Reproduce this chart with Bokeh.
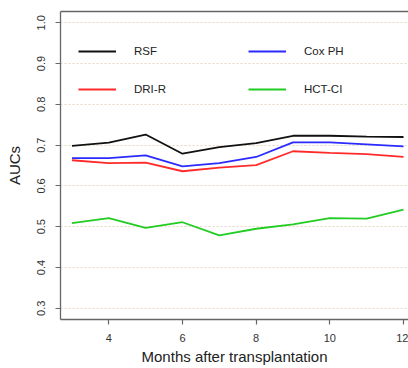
from bokeh.plotting import figure
from bokeh.models import Range1d, Legend, LegendItem, LinearAxis, FixedTicker, PrintfTickFormatter, Title
from bokeh.embed import file_html
from bokeh.resources import INLINE

months = [3, 4, 5, 6, 7, 8, 9, 10, 11, 12]
rsf = [0.698, 0.706, 0.726, 0.679, 0.695, 0.705, 0.723, 0.723, 0.721, 0.720]
cox_ph = [0.668, 0.668, 0.675, 0.648, 0.656, 0.671, 0.707, 0.707, 0.702, 0.697]
dri_r = [0.663, 0.656, 0.657, 0.636, 0.645, 0.651, 0.685, 0.681, 0.678, 0.671]
hct_ci = [0.509, 0.521, 0.497, 0.511, 0.479, 0.495, 0.506, 0.521, 0.520, 0.542]

x_ticks = [4, 6, 8, 10, 12]
y_ticks = [0.3, 0.4, 0.5, 0.6, 0.7, 0.8, 0.9, 1.0]
x_title = "Months after transplantation"
y_title = "AUCs"

FONT = "Liberation Sans"
FRAME = "#666666"

p = figure(width=408, height=368, output_backend="svg", toolbar_location=None,
           x_range=Range1d(2.689, 12.135), y_range=Range1d(0.2725, 1.0277),
           min_border_left=60, min_border_right=0, min_border_top=11,
           min_border_bottom=49)
p.outline_line_color = None
p.background_fill_color = "white"
p.border_fill_color = "white"

r1 = p.line(months, rsf, line_color="#111111", line_width=1.8)
r2 = p.line(months, cox_ph, line_color="#2B2BFF", line_width=1.8)
r3 = p.line(months, dri_r, line_color="#FF2B2B", line_width=1.8)
r4 = p.line(months, hct_ci, line_color="#22CC22", line_width=1.8)

# axes
p.xaxis.ticker = FixedTicker(ticks=x_ticks)
p.yaxis.ticker = FixedTicker(ticks=y_ticks)
p.yaxis.formatter = PrintfTickFormatter(format="%.1f")
for ax in (p.xaxis[0], p.yaxis[0]):
    ax.axis_line_color = FRAME
    ax.axis_line_width = 1.3
    ax.major_tick_line_color = FRAME
    ax.major_tick_line_width = 1.2
    ax.major_tick_in = 0
    ax.major_tick_out = 5
    ax.minor_tick_line_color = None
    ax.major_label_text_font = FONT
    ax.major_label_text_font_size = "11px"
    ax.major_label_text_color = "#333333"
    ax.axis_label_text_font = FONT
    ax.axis_label_text_font_size = "15px"
    ax.axis_label_text_font_style = "normal"
    ax.axis_label_text_color = "#222222"

p.xaxis.major_label_standoff = 9
p.yaxis.axis_label = y_title
p.yaxis.major_label_orientation = "vertical"
p.yaxis.major_label_standoff = 10
p.yaxis.axis_label_standoff = 12

# x-axis title as a below-title
p.add_layout(Title(text=x_title, align="center", text_font=FONT,
                   text_font_size="15px", text_font_style="normal",
                   text_color="#222222", standoff=3, offset=3), "below")

top = LinearAxis(ticker=FixedTicker(ticks=[]), axis_line_color=FRAME,
                 axis_line_width=1.3, major_tick_line_color=None,
                 minor_tick_line_color=None, major_label_text_font_size="0px")
p.add_layout(top, "above")

# grid
p.xgrid.grid_line_color = None
p.ygrid.ticker = FixedTicker(ticks=y_ticks)
p.ygrid.grid_line_color = "#E6D8C0"
p.ygrid.grid_line_dash = "2 2"
p.ygrid.grid_line_width = 1

legend = Legend(items=[
    LegendItem(label="RSF", renderers=[r1]),
    LegendItem(label="DRI-R", renderers=[r3]),
    LegendItem(label="Cox PH", renderers=[r2]),
    LegendItem(label="HCT-CI", renderers=[r4]),
], ncols=2, location=(18, 220))
legend.padding = 0
legend.margin = 0
legend.spacing = 18
legend.glyph_width = 38
legend.glyph_height = 20
legend.label_height = 20
legend.label_width = 96
legend.label_standoff = 18
legend.label_text_font = FONT
legend.label_text_font_size = "11.5px"
legend.label_text_color = "#222222"
legend.background_fill_alpha = 0
legend.border_line_color = None
p.add_layout(legend, "center")

open("out.html", "w").write(file_html(p, INLINE))
